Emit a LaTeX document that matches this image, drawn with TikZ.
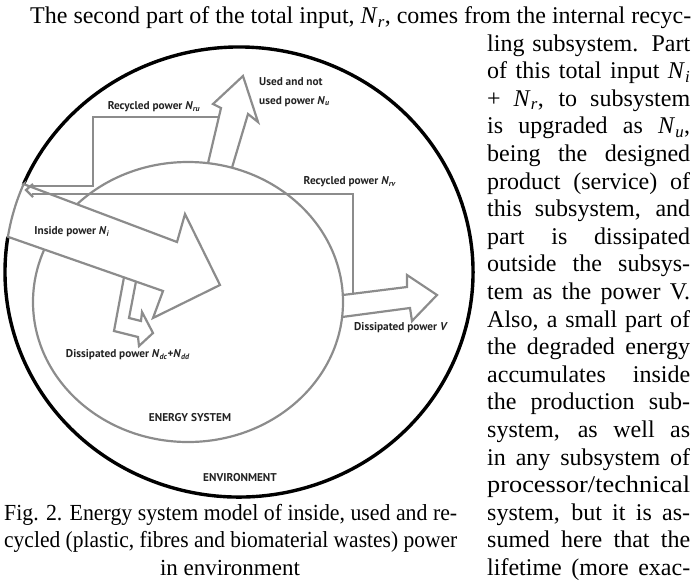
\documentclass[tikz,border=0pt]{standalone}
\usepackage{fontspec}
\setmainfont{Liberation Serif}
\newfontfamily\labelfont{PT Sans}
\usepackage{graphicx}
\usepackage{tikz}

\definecolor{linegray}{RGB}{140,140,140}
\definecolor{labelgray}{RGB}{35,35,35}

\newcommand{\Nsub}[1]{\textit{N}\textsubscript{\textit{#1}}}
\newlength\jwd
% a justified line: spread the spaces, or squeeze it when it is too long
\newcommand{\jline}[2]{\settowidth{\jwd}{#2}%
  \ifdim\jwd>#1pt\resizebox{#1pt}{\height}{#2}\else\makebox[#1pt][s]{#2}\fi}
\newcommand{\sline}[2]{\resizebox{#1pt}{\height}{#2}}

\tikzset{
  syslabel/.style={font=\labelfont\bfseries\fontsize{11.3}{19}\selectfont, text=labelgray, inner sep=0pt},
  flow/.style={draw=linegray, line width=2.2pt, line join=miter},
  bodyline/.style={anchor=base west, inner sep=0pt, font=\fontsize{24}{28}\selectfont},
  captionline/.style={anchor=base west, inner sep=0pt, font=\fontsize{23}{28}\selectfont},
}

\begin{document}
\begin{tikzpicture}[x=1pt, y=-1pt]
  \useasboundingbox (0,0) rectangle (691,582);

  % environment and energy system
  \draw[line width=3.4pt] (23.6,184.1) arc[start angle=203, end angle=549, x radius=234, y radius=225];
  \draw[flow] (188,302) ellipse [x radius=155, y radius=140];

  \begin{scope}[every node/.style={coordinate}]
    \node (ni0) at (23.6,184.1) {};
    \node (ni1) at (177,242) {};
    \node (ni2) at (185,214) {};
    \node (ni3) at (220,285) {};
    \node (ni4) at (153,318) {};
    \node (ni5) at (163,291) {};
    \node (ni6) at (7.9,236.8) {};
    \node (nu0) at (208,163.2) {};
    \node (nu1) at (221,108) {};
    \node (nu2) at (213,104) {};
    \node (nu3) at (243,76) {};
    \node (nu4) at (258,122) {};
    \node (nu5) at (248,114) {};
    \node (nu6) at (232,167.7) {};
    \node (v0) at (342.8,295) {};
    \node (v1) at (407,287) {};
    \node (v2) at (407,275) {};
    \node (v3) at (437,295) {};
    \node (v4) at (412,321) {};
    \node (v5) at (410,308) {};
    \node (v6) at (342.1,317) {};
    \node (d0) at (124,277.2) {};
    \node (d1) at (114,331) {};
    \node (d2) at (138,337) {};
    \node (d3) at (139,346) {};
    \node (d4) at (153,333) {};
    \node (d5) at (142,312) {};
    \node (d6) at (141,321) {};
    \node (d7) at (129,318) {};
    \node (d8) at (136,281.4) {};
    \node (ru0) at (219,117) {};
    \node (ru1) at (93,117) {};
    \node (ru2) at (93,186) {};
    \node (ru3) at (32,186) {};
    \node (rv0) at (353,293.7) {};
    \node (rv1) at (353,194) {};
    \node (rv2) at (32,194) {};
    \node (tip0) at (33,184) {};
    \node (tip1) at (26,190) {};
    \node (tip2) at (33,197) {};
  \end{scope}

  \filldraw[flow, fill=white] (ni0) -- (ni1) -- (ni2) -- (ni3) -- (ni4) -- (ni5) -- (ni6)
    arc[start angle=189, end angle=203, x radius=234, y radius=225] -- cycle;
  \draw[flow] (nu0) -- (nu1) -- (nu2) -- (nu3) -- (nu4) -- (nu5) -- (nu6);
  \draw[flow] (v0) -- (v1) -- (v2) -- (v3) -- (v4) -- (v5) -- (v6);
  \draw[flow] (d0) -- (d1) -- (d2) -- (d3) -- (d4) -- (d5) -- (d6) -- (d7) -- (d8);
  \draw[flow] (ru0) -- (ru1) -- (ru2) -- (ru3);
  \draw[flow] (rv0) -- (rv1) -- (rv2);
  \draw[flow] (tip0) -- (tip1) -- (tip2);

  \node[syslabel] (lru) at (154,107) {Recycled power \Nsub{ru}};
  \node[syslabel, align=left, anchor=west] (lu) at (259,92) {Used and not\\used power \Nsub{u}};
  \node[syslabel] (lrv) at (350,182) {Recycled power \Nsub{rv}};
  \node[syslabel] (li) at (72,232) {Inside power \Nsub{i}};
  \node[syslabel] (ld) at (128,355) {Dissipated power \Nsub{dc}+\Nsub{dd}};
  \node[syslabel] (lv) at (401,328) {Dissipated power \textit{V}};
  \node[syslabel] (les) at (190,418) {ENERGY SYSTEM};
  \node[syslabel] (len) at (240,478) {ENVIRONMENT};

  % surrounding page text
  \node[bodyline] (top) at (30,23.5) {\jline{661}{The second part of the total input, \textit{N}\textsubscript{\textit{r}}, comes from the internal recyc-}};
  \foreach \txt [count=\k] in {{ling subsystem. Part}, {of this total input \textit{N}\textsubscript{\textit{i}}},
      {+ \textit{N}\textsubscript{\textit{r}}, to subsystem}, {is upgraded as \textit{N}\textsubscript{\textit{u}},},
      {being the designed}, {product (service) of}, {this subsystem, and}, {part is dissipated},
      {outside the subsys-}, {tem as the power V.}, {Also, a small part of}, {the degraded energy},
      {accumulates inside}, {the production sub-}, {system, as well as}, {in any subsystem of},
      {\sline{203}{processor/technical}}, {system, but it is as-}, {sumed here that the}, {lifetime (more exac-}}
    \node[bodyline] (body\k) at (487,{51+27.6*(\k-1)}) {\jline{203}{\txt}};
  \node[captionline] (cap1) at (4,520.2) {\jline{453}{Fig. 2. Energy system model of inside, used and re-}};
  \node[captionline] (cap2) at (4,547.8) {\jline{453}{cycled (plastic, fibres and biomaterial wastes) power}};
  \node[captionline, anchor=base] (cap3) at (230,575.4) {in environment};
\end{tikzpicture}
\end{document}
